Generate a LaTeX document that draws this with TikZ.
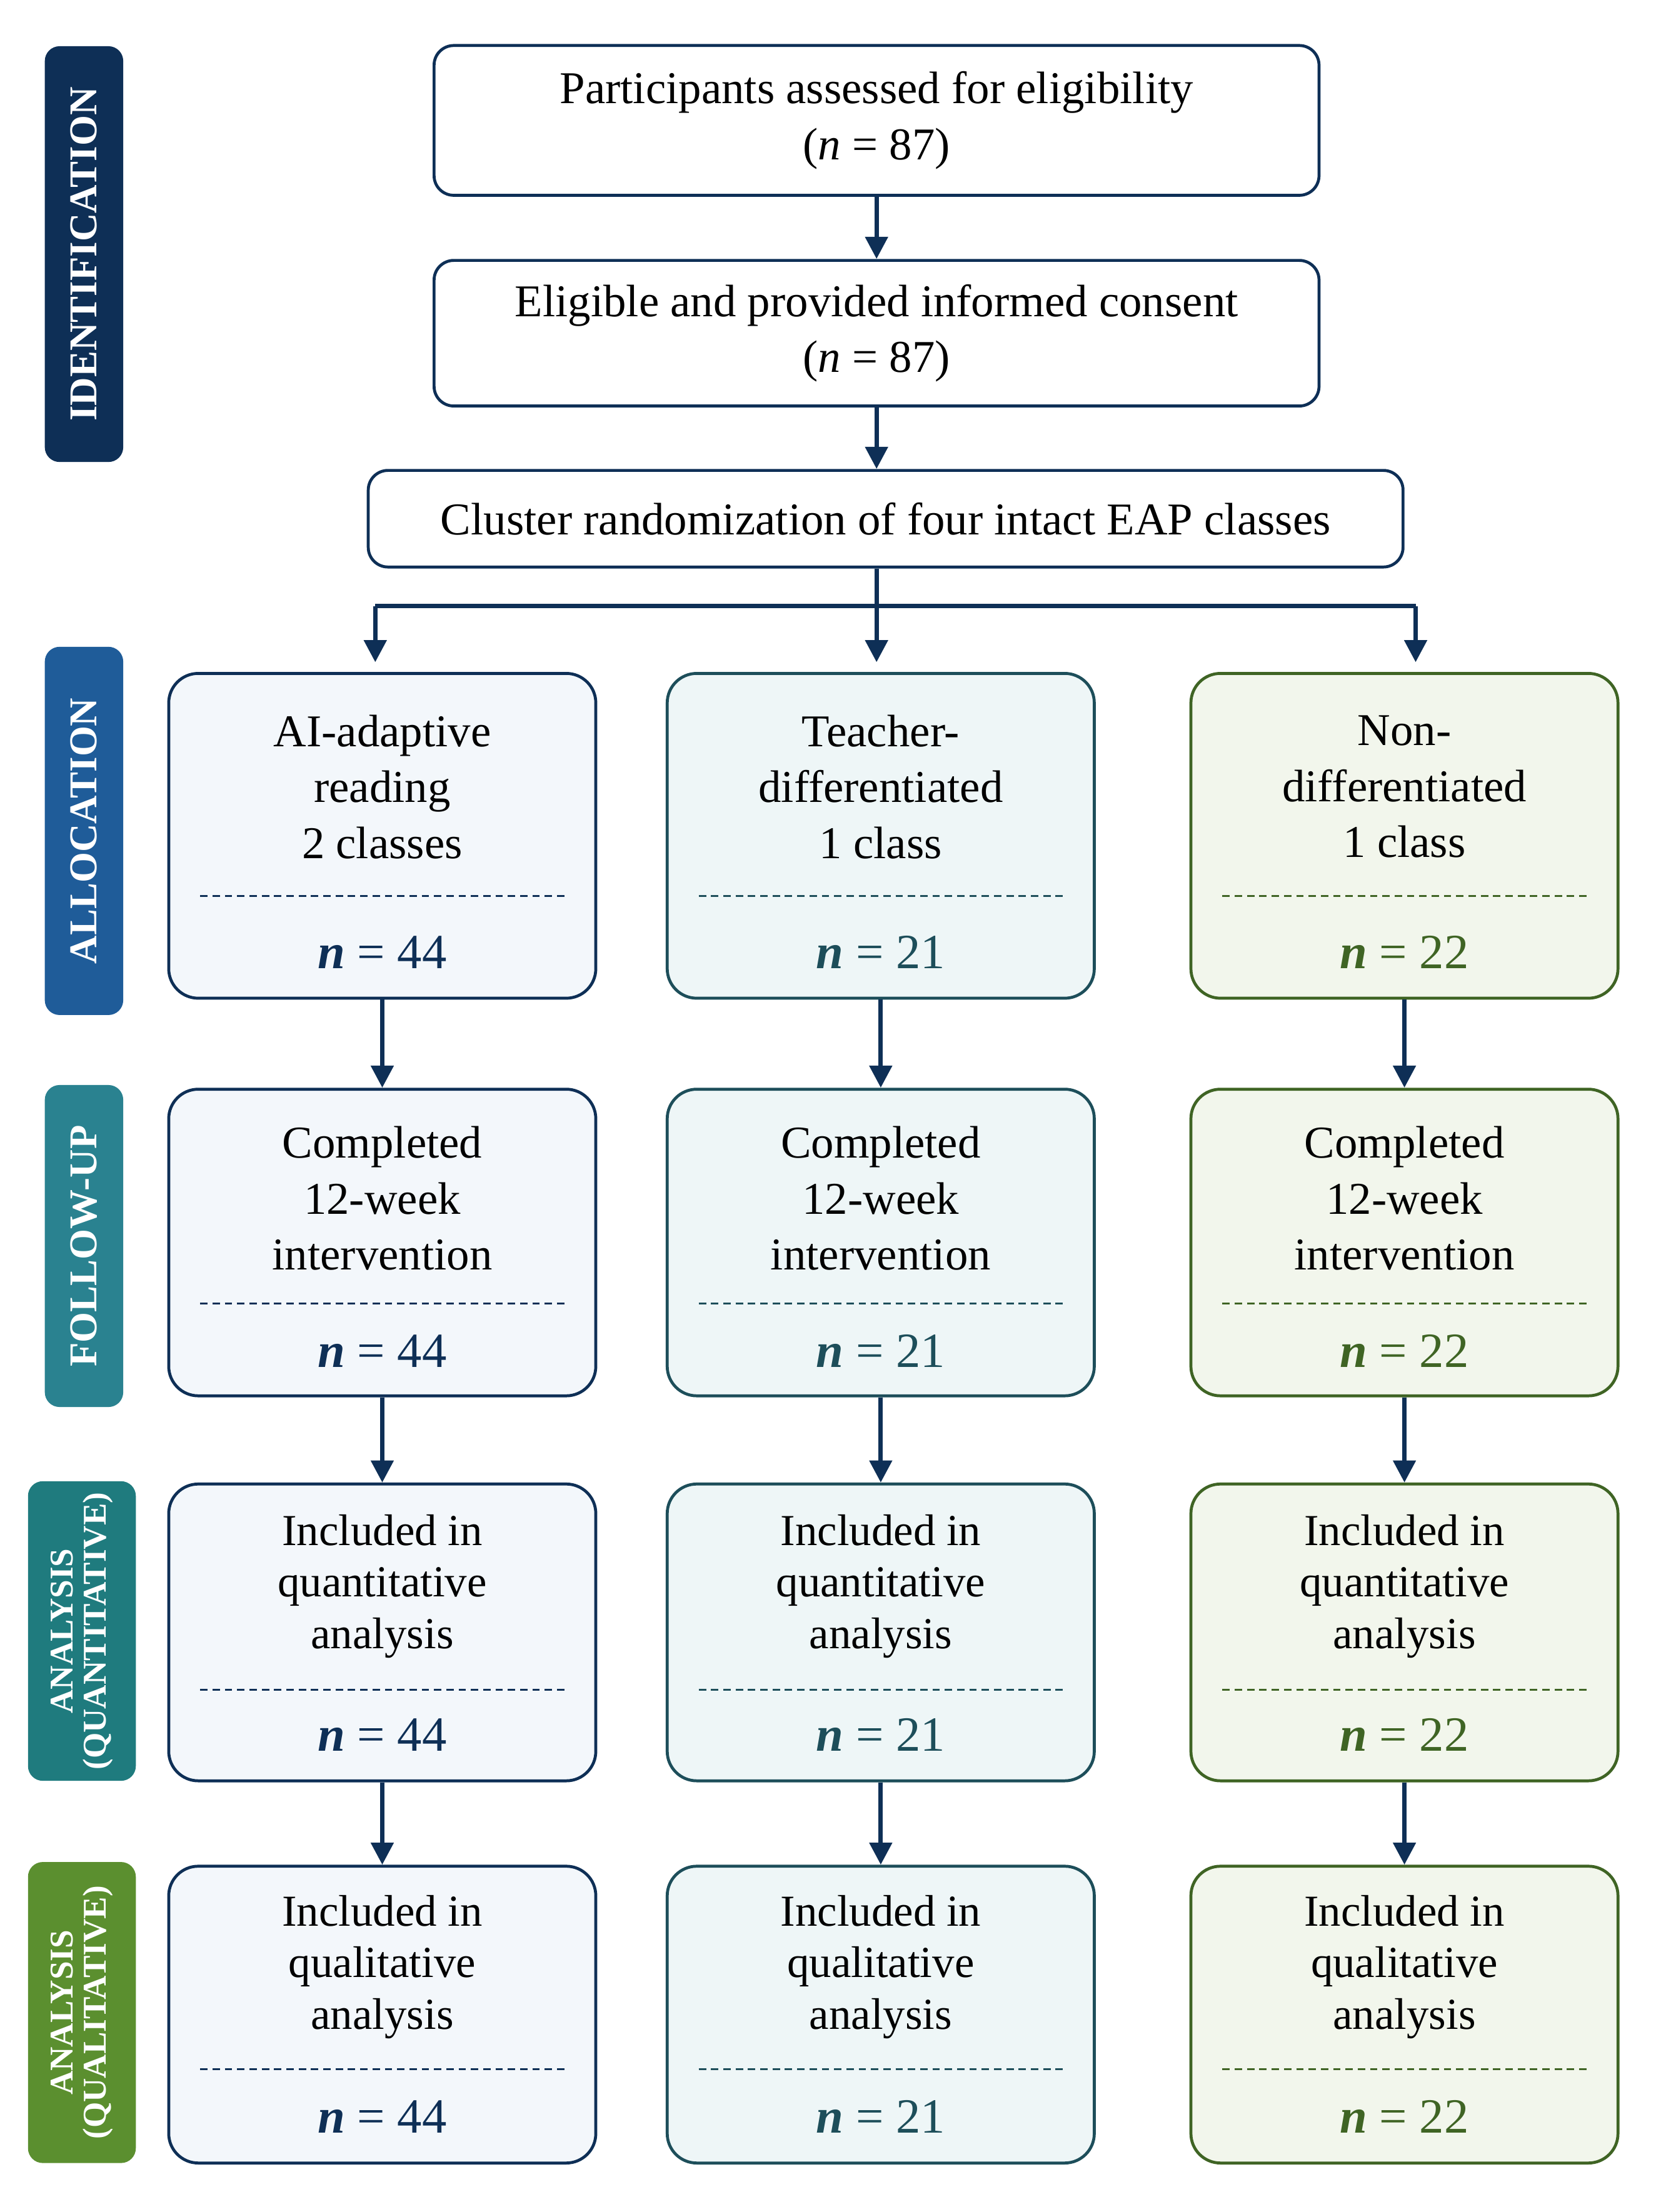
\documentclass[tikz,border=0pt]{standalone}
\usepackage{fontspec}
\setmainfont{Liberation Serif}
\usetikzlibrary{arrows.meta,positioning}
\definecolor{navy}{HTML}{0E2F56}
\definecolor{allocblue}{HTML}{1F5C99}
\definecolor{followteal}{HTML}{2A8290}
\definecolor{quantteal}{HTML}{1F7B7E}
\definecolor{qualgreen}{HTML}{5B8F2F}
\definecolor{tealdark}{HTML}{1D4E5A}
\definecolor{greendark}{HTML}{3F6424}
\definecolor{fillone}{HTML}{F3F7FB}
\definecolor{filltwo}{HTML}{EEF6F7}
\definecolor{fillthree}{HTML}{F2F6EC}
\tikzset{
  topbox/.style={draw=navy,line width=1.2pt,rounded corners=8pt,fill=white,inner sep=0pt},
  stagebox/.style={draw=#1,line width=1.2pt,rounded corners=12pt,inner sep=0pt,minimum width=6.1cm},
  sidelabel/.style={fill=#1,rounded corners=6pt,text=white,rotate=90,inner sep=0pt,font=\fontsize{16}{16}\selectfont\bfseries,align=center},
  flow/.style={-{Triangle[length=9pt,width=9pt]},line width=1.8pt,draw=navy},
  boxtext/.style={align=center,font=\fontsize{18.5}{22.7}\selectfont},
  ntext/.style={font=\fontsize{20}{20}\selectfont}
}
\begin{document}
\begin{tikzpicture}
\useasboundingbox (0,0) rectangle (23.72,-31.6);
%side labels
\node[sidelabel=navy,minimum width=5.94cm,minimum height=1.12cm] (identification) at (1.2,-3.63) {IDENTIFICATION};
\node[sidelabel=allocblue,minimum width=5.26cm,minimum height=1.12cm] (allocation) at (1.2,-11.87) {ALLOCATION};
\node[sidelabel=followteal,minimum width=4.6cm,minimum height=1.12cm] (followup) at (1.2,-17.8) {FOLLOW-UP};
\node[sidelabel=quantteal,minimum width=4.28cm,minimum height=1.54cm,font=\fontsize{13.5}{13.5}\selectfont\bfseries] (quantlabel) at (1.17,-23.3) {ANALYSIS\\(QUANTITATIVE)};
\node[sidelabel=qualgreen,minimum width=4.3cm,minimum height=1.54cm,font=\fontsize{13.5}{13.5}\selectfont\bfseries] (quallabel) at (1.17,-28.75) {ANALYSIS\\(QUALITATIVE)};
%top chain
\node[topbox,minimum width=12.64cm,minimum height=2.14cm,boxtext] (assessed) at (12.52,-1.72) {Participants assessed for eligibility\\(\textit{n} = 87)};
\node[topbox,minimum width=12.64cm,minimum height=2.08cm,boxtext] (consent) at (12.52,-4.76) {Eligible and provided informed consent\\(\textit{n} = 87)};
\node[topbox,minimum width=14.78cm,minimum height=1.38cm,boxtext] (cluster) at (12.65,-7.41) {Cluster randomization of four intact EAP classes};
\draw[flow] (assessed) -- (consent);
\draw[flow] (consent.south) -- (consent.south |- cluster.north);
%stage boxes
\foreach \c/\x/\col/\fil in {1/5.46/navy/fillone,2/12.58/tealdark/filltwo,3/20.06/greendark/fillthree}{
  \node[stagebox=\col,fill=\fil,minimum height=4.64cm] (c\c r1) at (\x,-11.94) {};
  \node[stagebox=\col,fill=\fil,minimum height=4.38cm] (c\c r2) at (\x,-17.75) {};
  \node[stagebox=\col,fill=\fil,minimum height=4.24cm] (c\c r3) at (\x,-23.32) {};
  \node[stagebox=\col,fill=\fil,minimum height=4.24cm] (c\c r4) at (\x,-28.78) {};
  \foreach \dy in {-12.8,-18.62,-24.14,-29.56}{
    \draw[densely dashed,line width=0.6pt,draw=\col] (\x-2.6,\dy) -- (\x+2.6,\dy);
  }
  \draw[flow] (c\c r1) -- (c\c r2);
  \draw[flow] (c\c r2) -- (c\c r3);
  \draw[flow] (c\c r3) -- (c\c r4);
}
%box texts
\node[boxtext] (t11) at (5.46,-11.24) {AI-adaptive\\reading\\2 classes};
\node[boxtext] (t21) at (12.58,-11.24) {Teacher-\\differentiated\\1 class};
\node[boxtext] (t31) at (20.06,-11.24) {Non-\\differentiated\\1 class};
\foreach \x in {5.46,12.58,20.06}{
  \node[boxtext] at (\x,-17.12) {Completed\\12-week\\intervention};
  \node[boxtext,font=\fontsize{18}{21}\selectfont] at (\x,-22.66) {Included in\\quantitative\\analysis};
  \node[boxtext,font=\fontsize{18}{21}\selectfont] at (\x,-28.1) {Included in\\qualitative\\analysis};
}
\foreach \x/\col/\n in {5.46/navy/44,12.58/tealdark/21,20.06/greendark/22}{
  \foreach \ny in {-13.6,-19.3,-24.78,-30.24}{
    \node[ntext,text=\col] at (\x,\ny) {\textbf{\textit{n}} = \n};
  }
}
%branching
\coordinate (split) at (12.52,-8.66);
\coordinate (leftend) at (5.36,-8.66);
\coordinate (rightend) at (20.22,-8.66);
\draw[line width=1.8pt,draw=navy] (cluster.south -| split) -- (split);
\draw[line width=1.8pt,draw=navy] (leftend) -- (rightend);
\draw[flow] (leftend) -- ++(0,-0.8);
\draw[flow] (split) -- ++(0,-0.8);
\draw[flow] (rightend) -- ++(0,-0.8);
\end{tikzpicture}
\end{document}
